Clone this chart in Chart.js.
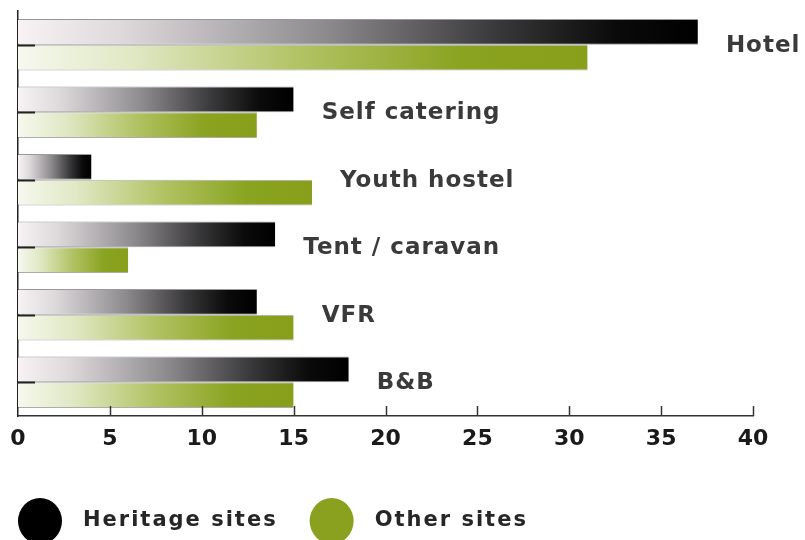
<!DOCTYPE html>
<html>
<head>
<meta charset="utf-8">
<script src="https://cdn.jsdelivr.net/npm/chart.js@4/dist/chart.umd.min.js"></script>
<style>
  html, body { margin: 0; padding: 0; background: #ffffff; }
  #wrap { width: 805px; height: 540px; position: relative; }
</style>
</head>
<body>
<div id="wrap"><canvas id="c" width="805" height="540"></canvas></div>
<script>
// ---- data ----
const categories = ['Hotel', 'Self catering', 'Youth hostel', 'Tent / caravan', 'VFR', 'B&B'];
const heritageSites = [37, 15, 4, 14, 13, 18];
const otherSites = [31, 13, 16, 6, 15, 15];
const seriesNames = ['Heritage sites', 'Other sites'];
const axisMin = 0;
const axisMax = 40;
const axisStep = 5;

// ---- styles ----
const FONT = "'DejaVu Sans', 'Liberation Sans', sans-serif";
const heritageStops = [[0, '#f7f3f4'], [0.15, '#dedadc'], [0.45, '#8e8b8f'], [0.7, '#3a393b'], [0.88, '#0a0a0a'], [1, '#000000']];
const otherStops = [[0, '#f6f8ee'], [0.2, '#e0e8c4'], [0.5, '#b0c262'], [0.78, '#8aa320'], [1, '#879f1a']];
const solidColors = ['#000000', '#8aa11f'];

function gradientFill(stops) {
  return function (ctx) {
    const chart = ctx.chart;
    if (!chart.chartArea || ctx.type !== 'data' || !chart.scales.x) return stops[stops.length - 1][1];
    const xs = chart.scales.x;
    const x0 = xs.getPixelForValue(0);
    const x1 = xs.getPixelForValue(ctx.raw);
    if (!isFinite(x0) || !isFinite(x1) || x1 === x0) return stops[stops.length - 1][1];
    const g = chart.ctx.createLinearGradient(x0, 0, x1, 0);
    stops.forEach(s => g.addColorStop(s[0], s[1]));
    return g;
  };
}

const decorPlugin = {
  id: 'decor',
  afterDatasetsDraw(chart) {
    const ctx = chart.ctx;
    const xs = chart.scales.x, ys = chart.scales.y;
    const area = chart.chartArea;
    ctx.save();
    // inward tick marks on the category axis
    ctx.strokeStyle = '#222';
    ctx.lineWidth = 2;
    for (let i = 0; i < categories.length; i++) {
      const y = Math.round(ys.getPixelForValue(i)) + 0.5;
      ctx.beginPath();
      ctx.moveTo(area.left, y);
      ctx.lineTo(area.left + 17, y);
      ctx.stroke();
    }
    // inward tick marks on the value axis
    ctx.lineWidth = 1.5;
    ctx.strokeStyle = '#333';
    for (let v = axisMin + axisStep; v <= axisMax; v += axisStep) {
      const x = Math.round(xs.getPixelForValue(v)) + 0.5;
      ctx.beginPath();
      ctx.moveTo(x, area.bottom);
      ctx.lineTo(x, area.bottom - 10);
      ctx.stroke();
    }
    // category labels to the right of the bars
    ctx.fillStyle = '#3a3a3a';
    ctx.font = "bold 23px " + FONT;
    ctx.textAlign = 'left';
    ctx.textBaseline = 'middle';
    try { ctx.letterSpacing = '1px'; } catch (e) {}
    for (let i = 0; i < categories.length; i++) {
      const mx = Math.max(heritageSites[i], otherSites[i]);
      const x = xs.getPixelForValue(mx) + 28;
      const y = ys.getPixelForValue(i) + 1;
      ctx.fillText(categories[i], x, y);
    }
    ctx.restore();
  },
  afterDraw(chart) {
    // legend
    const ctx = chart.ctx;
    ctx.save();
    ctx.font = "bold 21px " + FONT;
    try { ctx.letterSpacing = '2px'; } catch (e) {}
    ctx.textAlign = 'left';
    ctx.textBaseline = 'middle';
    const cy = 521;
    let x = 18;
    chart.data.datasets.forEach((ds, i) => {
      ctx.fillStyle = solidColors[i];
      ctx.beginPath();
      ctx.ellipse(x + 22, cy, 22, 23, 0, 0, Math.PI * 2);
      ctx.fill();
      ctx.fillStyle = '#262626';
      const tx = x + 65;
      ctx.fillText(ds.label, tx, cy);
      x = tx + ctx.measureText(ds.label).width + 32;
    });
    ctx.restore();
  }
};

new Chart(document.getElementById('c'), {
  type: 'bar',
  data: {
    labels: categories,
    datasets: [
      {
        label: seriesNames[0],
        data: heritageSites,
        backgroundColor: gradientFill(heritageStops),
        borderColor: 'rgba(70,70,70,0.55)',
        borderWidth: { top: 1, bottom: 1, left: 0, right: 0 },
        borderSkipped: false,
        barPercentage: 1,
        categoryPercentage: 0.76
      },
      {
        label: seriesNames[1],
        data: otherSites,
        backgroundColor: gradientFill(otherStops),
        borderColor: 'rgba(70,70,70,0.45)',
        borderWidth: { top: 1, bottom: 1, left: 0, right: 0 },
        borderSkipped: false,
        barPercentage: 1,
        categoryPercentage: 0.76
      }
    ]
  },
  options: {
    indexAxis: 'y',
    responsive: false,
    animation: false,
    devicePixelRatio: 1,
    layout: { padding: { top: 11, left: 18, right: 52, bottom: 0 } },
    plugins: {
      legend: { display: false },
      tooltip: { enabled: false }
    },
    scales: {
      x: {
        type: 'linear',
        min: axisMin,
        max: axisMax,
        ticks: {
          stepSize: axisStep,
          color: '#1a1a1a',
          font: { family: FONT, size: 22, weight: 'bold' },
          padding: 10,
          maxRotation: 0
        },
        grid: { display: false, drawTicks: false },
        border: { display: true, color: '#333', width: 1.5 },
        afterFit(scale) { scale.height = 124; }
      },
      y: {
        type: 'category',
        ticks: { display: false },
        grid: { display: false, drawTicks: false },
        border: { display: true, color: '#222', width: 1.5 },
        afterFit(scale) { scale.width = 0; }
      }
    }
  },
  plugins: [decorPlugin]
});
</script>
</body>
</html>
